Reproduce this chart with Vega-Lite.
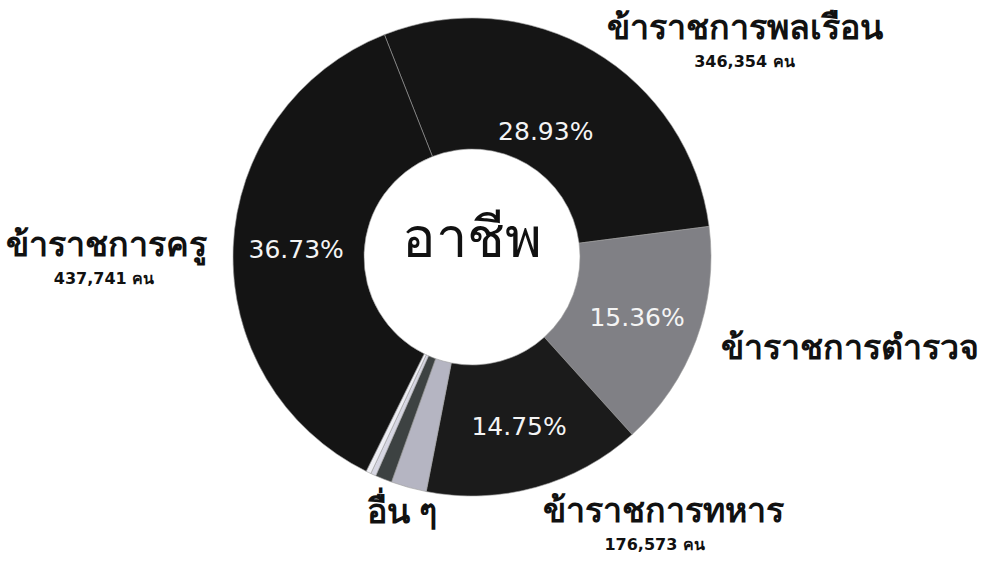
{
  "$schema": "https://vega.github.io/schema/vega-lite/v6.json",
  "width": 944,
  "height": 514,
  "autosize": {"type": "none"},
  "padding": {"left": 0, "top": 0, "right": 38, "bottom": 48},
  "background": "#ffffff",
  "config": {"view": {"stroke": null}},
  "data": {
    "values": [
      {"seq": 1, "cat": "ข้าราชการพลเรือน", "label": "ข้าราชการพลเรือน", "share": 0.2893, "count": "346,354 คน"},
      {"seq": 2, "cat": "ข้าราชการตำรวจ", "label": "ข้าราชการตำรวจ", "share": 0.1536, "count": ""},
      {"seq": 3, "cat": "ข้าราชการทหาร", "label": "ข้าราชการทหาร", "share": 0.1475, "count": "176,573 คน"},
      {"seq": 4, "cat": "อื่น ๆ 1", "label": "อื่น ๆ", "share": 0.0240, "count": ""},
      {"seq": 5, "cat": "อื่น ๆ 2", "label": "", "share": 0.0113, "count": ""},
      {"seq": 6, "cat": "อื่น ๆ 3", "label": "", "share": 0.0036, "count": ""},
      {"seq": 7, "cat": "อื่น ๆ 4", "label": "", "share": 0.0034, "count": ""},
      {"seq": 8, "cat": "ข้าราชการครู", "label": "ข้าราชการครู", "share": 0.3673, "count": "437,741 คน"}
    ]
  },
  "layer": [
    {
      "mark": {"type": "arc", "innerRadius": 108, "outerRadius": 239, "stroke": "#9a9a9a", "strokeWidth": 0.6},
      "encoding": {
        "theta": {"field": "share", "type": "quantitative", "stack": true, "scale": {"range": [-0.3752, 5.908]}},
        "order": {"field": "seq", "type": "ordinal"},
        "color": {
          "field": "cat",
          "type": "nominal",
          "scale": {
            "domain": ["ข้าราชการพลเรือน", "ข้าราชการตำรวจ", "ข้าราชการทหาร", "อื่น ๆ 1", "อื่น ๆ 2", "อื่น ๆ 3", "อื่น ๆ 4", "ข้าราชการครู"],
            "range": ["#151515", "#808085", "#1b1b1b", "#b5b5c2", "#3d4242", "#d6d6e2", "#eeeef4", "#141414"]
          },
          "legend": null
        }
      }
    },
    {
      "mark": {
        "type": "text",
        "radius": {"expr": "datum.cat === 'ข้าราชการพลเรือน' ? 145 : 176"},
        "font": "DejaVu Sans",
        "fontSize": 25,
        "fill": "#f4f4f4"
      },
      "encoding": {
        "theta": {"field": "share", "type": "quantitative", "stack": true, "scale": {"range": [-0.3752, 5.908]}},
        "order": {"field": "seq", "type": "ordinal"},
        "text": {"condition": {"test": "datum.share > 0.05", "field": "share", "format": ".2%"}, "value": ""}
      }
    },
    {
      "mark": {
        "type": "text",
        "radius": 265,
        "fontSize": 34,
        "fontWeight": "bold",
        "fill": "#111111",
        "baseline": "middle",
        "align": {"expr": "datum.label === 'อื่น ๆ' ? 'center' : (datum.label === 'ข้าราชการครู' ? 'right' : 'left')"}
      },
      "encoding": {
        "theta": {"field": "share", "type": "quantitative", "stack": true, "scale": {"range": [-0.3752, 5.908]}},
        "order": {"field": "seq", "type": "ordinal"},
        "text": {"field": "label", "type": "nominal"}
      }
    },
    {
      "mark": {
        "type": "text",
        "radius": 265,
        "dy": 33,
        "dx": {"expr": "(datum.label === 'ข้าราชการครู' ? -1 : 1) * length(datum.label) * 8.6"},
        "font": "DejaVu Sans",
        "fontSize": 16,
        "fontWeight": "bold",
        "fill": "#111111",
        "baseline": "middle",
        "align": "center"
      },
      "encoding": {
        "theta": {"field": "share", "type": "quantitative", "stack": true, "scale": {"range": [-0.3752, 5.908]}},
        "order": {"field": "seq", "type": "ordinal"},
        "text": {"field": "count", "type": "nominal"}
      }
    },
    {
      "data": {"values": [{"title": "อาชีพ"}]},
      "mark": {"type": "text", "fontSize": 56, "fill": "#111111", "baseline": "alphabetic", "align": "center"},
      "encoding": {"text": {"field": "title", "type": "nominal"}}
    }
  ]
}
